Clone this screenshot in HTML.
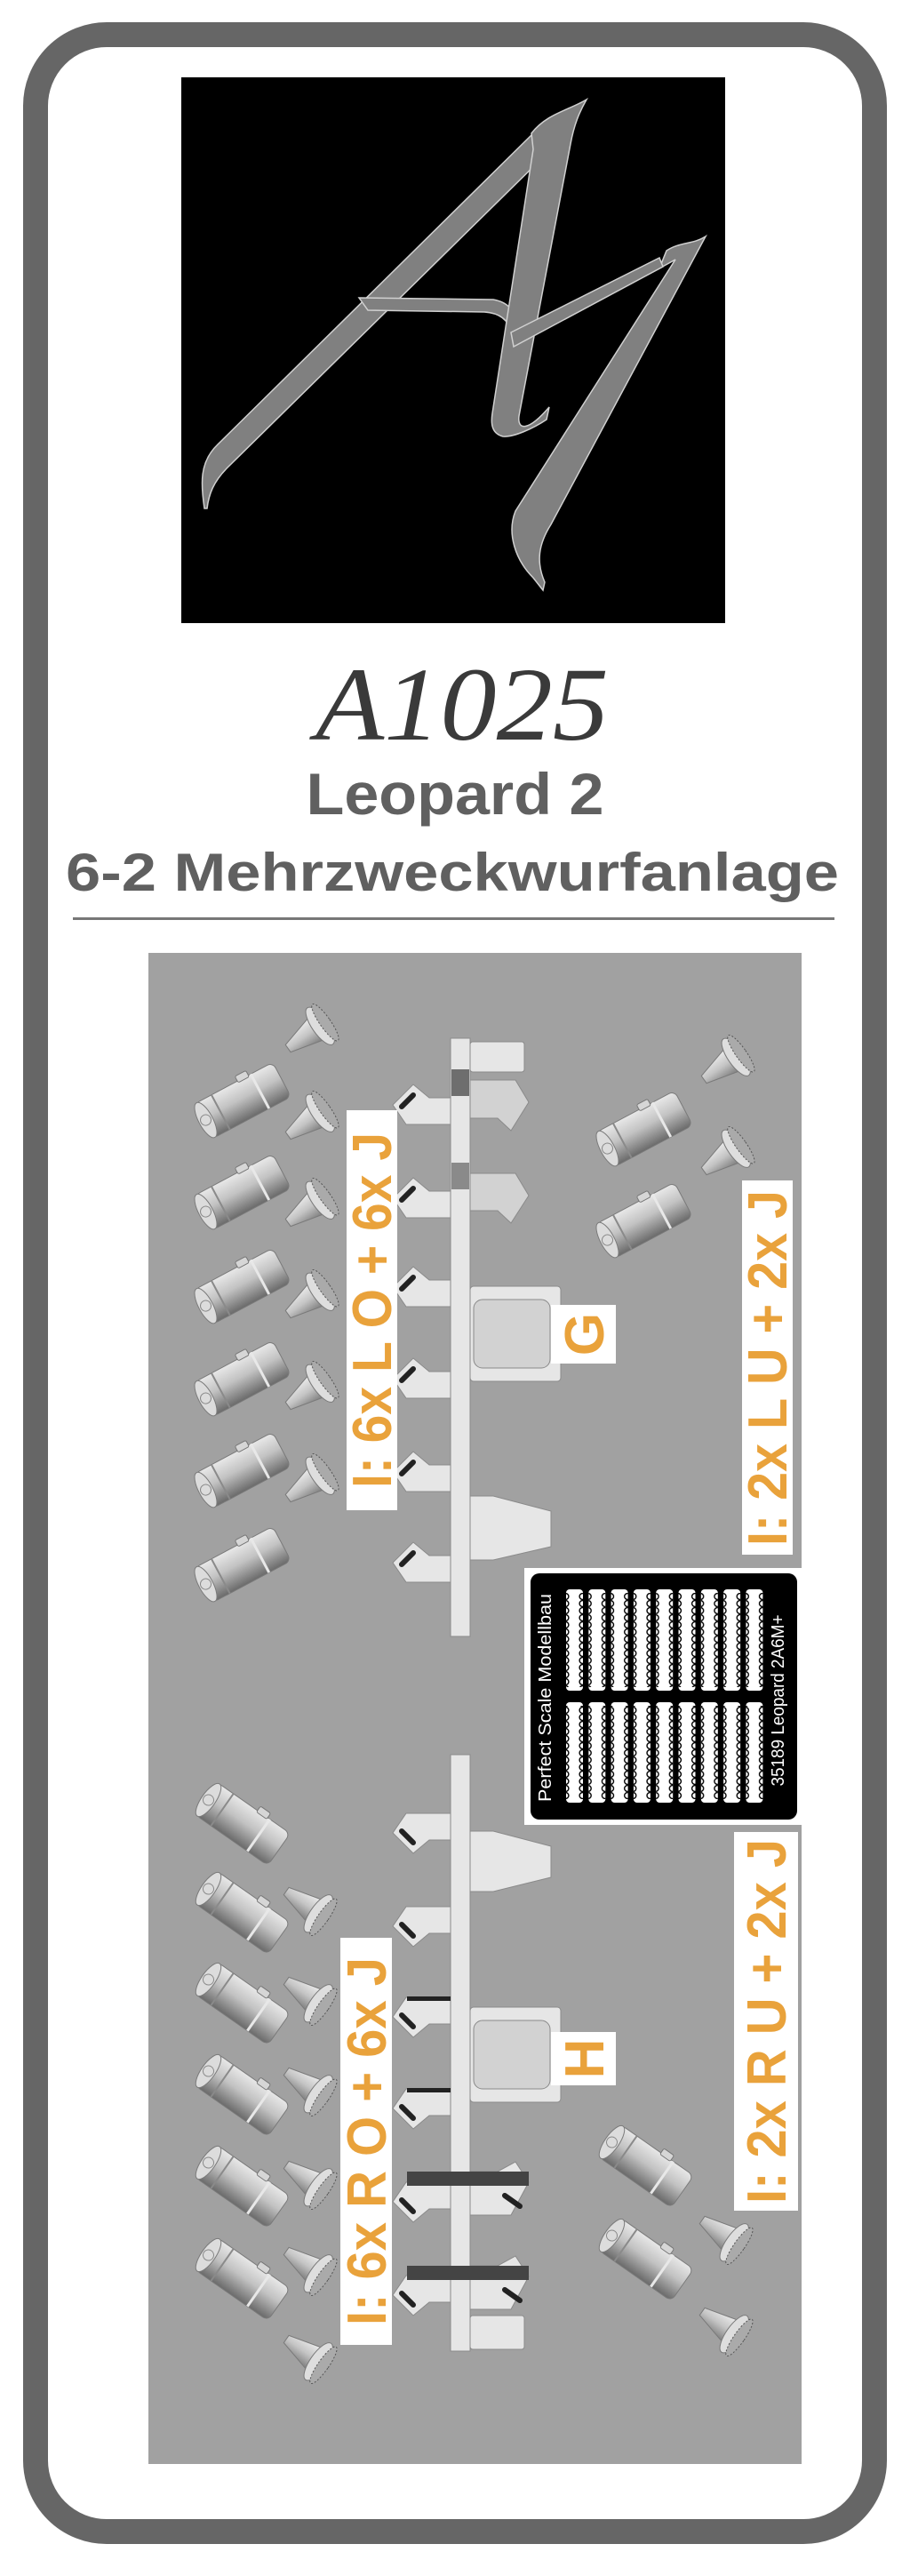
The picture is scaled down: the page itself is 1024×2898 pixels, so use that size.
<!DOCTYPE html>
<html><head><meta charset="utf-8"><style>
html,body{margin:0;padding:0;background:#fff;}
svg{display:block;}
</style></head><body>
<svg width="1024" height="2898" viewBox="0 0 1024 2898" xmlns="http://www.w3.org/2000/svg">
<defs>
<linearGradient id="cg" x1="0" y1="0" x2="0" y2="1">
<stop offset="0" stop-color="#e8e8e8"/><stop offset="0.45" stop-color="#c2c2c2"/><stop offset="1" stop-color="#6a6a6a"/>
</linearGradient>
<linearGradient id="kg" x1="0" y1="0" x2="0" y2="1">
<stop offset="0" stop-color="#ececec"/><stop offset="0.5" stop-color="#c4c4c4"/><stop offset="1" stop-color="#7e7e7e"/>
</linearGradient>
<g id="cyl">
<rect x="-50" y="-22" width="100" height="44" rx="7" fill="url(#cg)" stroke="#7a7a7a" stroke-width="1"/>
<ellipse cx="-47" cy="0" rx="8" ry="22" fill="#dcdcdc" stroke="#7a7a7a"/>
<circle cx="-47" cy="0" r="6" fill="none" stroke="#888"/>
<line x1="-28" y1="-22" x2="-28" y2="22" stroke="#8a8a8a" stroke-width="2"/>
<line x1="22" y1="-22" x2="22" y2="22" stroke="#e8e8e8" stroke-width="3"/>
<rect x="5" y="-28" width="14" height="8" rx="2" fill="#d6d6d6" stroke="#777"/>
</g>
<g id="cone">
<polygon points="-34,-5 -34,5 4,15 4,-15" fill="url(#kg)" stroke="#7a7a7a" stroke-width="1"/>
<ellipse cx="10" cy="0" rx="9" ry="25" fill="#dedede" stroke="#7a7a7a"/>
<ellipse cx="17" cy="0" rx="6" ry="25" fill="#aaa" stroke="#555" stroke-dasharray="2 2"/>
</g>
<pattern id="chain" x="0" y="0" width="19" height="8" patternUnits="userSpaceOnUse">
<circle cx="9.5" cy="4" r="3.4" fill="none" stroke="#000" stroke-width="1.4"/>
</pattern>
</defs>

<rect x="40" y="39" width="944" height="2809" rx="80" fill="#fff" stroke="#666" stroke-width="28"/>

<rect x="204" y="87" width="612" height="614" fill="#000"/>
<g fill="#808080" stroke="#d0d0d0" stroke-width="1.5">
<path d="M230,572 C226,545 224,520 245,500 L600,150 L620,168 L256,526 C240,542 235,556 233,572 Z"/>
<path d="M404,335 L555,337 C572,340 580,350 580,364 L575,374 C572,358 560,352 545,351 L414,349 Z"/>
<path d="M598,150 C615,128 640,124 660,112 C652,126 646,140 642,162 L584,468 C582,484 594,486 618,458 L615,472 C600,482 578,492 566,491 C554,488 552,478 554,465 L600,168 Z"/>
<path d="M794,266 C780,275 765,272 750,282 L742,302 L760,292 L580,575 C570,600 580,630 600,650 L611,664 L613,655 C603,632 606,612 620,590 Z"/>
<path d="M575,374 L742,290 L746,300 L578,390 Z"/>
</g>

<text x="520" y="832" text-anchor="middle" font-family="Liberation Serif, serif" font-style="italic" font-size="118" fill="#3a3a3a" textLength="330" lengthAdjust="spacingAndGlyphs">A1025</text>
<text x="512" y="916" text-anchor="middle" font-family="Liberation Sans, sans-serif" font-weight="bold" font-size="66" fill="#606060" textLength="335" lengthAdjust="spacingAndGlyphs">Leopard 2</text>
<text x="509" y="1002" text-anchor="middle" font-family="Liberation Sans, sans-serif" font-weight="bold" font-size="60" fill="#606060" textLength="870" lengthAdjust="spacingAndGlyphs">6-2 Mehrzweckwurfanlage</text>
<rect x="82" y="1032" width="857" height="3" fill="#777"/>

<rect x="167" y="1072" width="735" height="1700" fill="#a1a1a1"/>

<g fill="#e6e6e6" stroke="#8a8a8a" stroke-width="1">
<rect x="529" y="1172" width="61" height="34" rx="3"/>
<path d="M507,1265 L457,1265 L442,1243 L465,1220 L483,1235 L507,1235 Z"/>
<path d="M507,1370 L457,1370 L442,1348 L465,1325 L483,1340 L507,1340 Z"/>
<path d="M507,1470 L457,1470 L442,1448 L465,1425 L483,1440 L507,1440 Z"/>
<path d="M507,1573 L457,1573 L442,1551 L465,1528 L483,1543 L507,1543 Z"/>
<path d="M507,1678 L457,1678 L442,1656 L465,1633 L483,1648 L507,1648 Z"/>
<path d="M507,1780 L457,1780 L442,1758 L465,1735 L483,1750 L507,1750 Z"/>
<path d="M529,1215 L580,1215 L595,1240 L575,1272 L560,1258 L529,1258 Z" fill="#d2d2d2"/>
<path d="M529,1320 L580,1320 L595,1345 L575,1376 L560,1362 L529,1362 Z" fill="#d2d2d2"/>
<rect x="529" y="1447" width="102" height="107" rx="4"/>
<rect x="533" y="1462" width="86" height="77" rx="10" fill="#d2d2d2"/>
<path d="M529,1683 L555,1683 L620,1700 L620,1740 L555,1755 L529,1755 Z"/>
<rect x="507" y="1168" width="22" height="673"/>
</g>
<rect x="508" y="1203" width="20" height="30" fill="#6e6e6e"/>
<rect x="508" y="1308" width="20" height="30" fill="#8a8a8a"/>
<g stroke="#222" stroke-width="6" stroke-linecap="round">
<line x1="452" y1="1245" x2="465" y2="1232"/><line x1="452" y1="1350" x2="465" y2="1337"/>
<line x1="452" y1="1450" x2="465" y2="1437"/><line x1="452" y1="1553" x2="465" y2="1540"/>
<line x1="452" y1="1658" x2="465" y2="1645"/><line x1="452" y1="1760" x2="465" y2="1747"/>
</g>

<g fill="#e6e6e6" stroke="#8a8a8a" stroke-width="1">
<path d="M529,2060 L555,2060 L620,2077 L620,2112 L555,2128 L529,2128 Z"/>
<path d="M507,2040 L457,2040 L442,2062 L465,2085 L483,2070 L507,2070 Z"/>
<path d="M507,2145 L457,2145 L442,2167 L465,2190 L483,2175 L507,2175 Z"/>
<path d="M507,2247 L457,2247 L442,2269 L465,2292 L483,2277 L507,2277 Z"/>
<path d="M507,2350 L457,2350 L442,2372 L465,2395 L483,2380 L507,2380 Z"/>
<path d="M507,2455 L457,2455 L442,2477 L465,2500 L483,2485 L507,2485 Z"/>
<path d="M507,2560 L457,2560 L442,2582 L465,2605 L483,2590 L507,2590 Z"/>
<path d="M529,2443 L560,2443 L580,2432 L595,2455 L575,2492 L529,2492 Z"/>
<path d="M529,2549 L560,2549 L580,2538 L595,2561 L575,2598 L529,2598 Z"/>
<rect x="529" y="2258" width="102" height="107" rx="4"/>
<rect x="533" y="2273" width="86" height="77" rx="10" fill="#d2d2d2"/>
<rect x="529" y="2605" width="61" height="38" rx="3"/>
<rect x="507" y="1974" width="22" height="671"/>
</g>
<rect x="458" y="2246" width="49" height="5" fill="#222"/>
<rect x="458" y="2349" width="49" height="5" fill="#222"/>
<rect x="458" y="2443" width="137" height="16" fill="#444"/>
<rect x="458" y="2549" width="137" height="16" fill="#444"/>
<g stroke="#222" stroke-width="6" stroke-linecap="round">
<line x1="452" y1="2060" x2="465" y2="2073"/><line x1="452" y1="2165" x2="465" y2="2178"/>
<line x1="452" y1="2267" x2="465" y2="2280"/><line x1="452" y1="2370" x2="465" y2="2383"/>
<line x1="452" y1="2475" x2="465" y2="2488"/><line x1="452" y1="2580" x2="465" y2="2593"/>
<line x1="568" y1="2470" x2="585" y2="2482"/><line x1="568" y1="2576" x2="585" y2="2588"/>
</g>

<use href="#cyl" transform="translate(273,1238) rotate(-28)"/>
<use href="#cyl" transform="translate(273,1341) rotate(-28)"/>
<use href="#cyl" transform="translate(273,1447) rotate(-28)"/>
<use href="#cyl" transform="translate(273,1551) rotate(-28)"/>
<use href="#cyl" transform="translate(273,1654) rotate(-28)"/>
<use href="#cyl" transform="translate(273,1760) rotate(-28)"/>
<use href="#cone" transform="translate(352,1160) rotate(-35)"/>
<use href="#cone" transform="translate(352,1258) rotate(-35)"/>
<use href="#cone" transform="translate(352,1356) rotate(-35)"/>
<use href="#cone" transform="translate(352,1459) rotate(-35)"/>
<use href="#cone" transform="translate(352,1562) rotate(-35)"/>
<use href="#cone" transform="translate(352,1666) rotate(-35)"/>
<use href="#cyl" transform="translate(725,1270) rotate(-28)"/>
<use href="#cyl" transform="translate(725,1373) rotate(-28)"/>
<use href="#cone" transform="translate(820,1195) rotate(-35)"/>
<use href="#cone" transform="translate(820,1298) rotate(-35)"/>

<use href="#cyl" transform="translate(273,2052) rotate(35)"/>
<use href="#cyl" transform="translate(273,2152) rotate(35)"/>
<use href="#cyl" transform="translate(273,2254) rotate(35)"/>
<use href="#cyl" transform="translate(273,2357) rotate(35)"/>
<use href="#cyl" transform="translate(273,2460) rotate(35)"/>
<use href="#cyl" transform="translate(273,2564) rotate(35)"/>
<use href="#cone" transform="translate(350,2147) rotate(35)"/>
<use href="#cone" transform="translate(350,2248) rotate(35)"/>
<use href="#cone" transform="translate(350,2350) rotate(35)"/>
<use href="#cone" transform="translate(350,2455) rotate(35)"/>
<use href="#cone" transform="translate(350,2552) rotate(35)"/>
<use href="#cone" transform="translate(350,2651) rotate(35)"/>
<use href="#cyl" transform="translate(727,2437) rotate(35)"/>
<use href="#cyl" transform="translate(727,2542) rotate(35)"/>
<use href="#cone" transform="translate(818,2517) rotate(35)"/>
<use href="#cone" transform="translate(818,2620) rotate(35)"/>

<g font-family="Liberation Sans, sans-serif" font-weight="bold" fill="#e9a23b" text-anchor="middle" font-size="62">
<rect x="390" y="1249" width="57" height="450" fill="#fff"/>
<text transform="translate(440,1474) rotate(-90)" textLength="400" lengthAdjust="spacingAndGlyphs">I: 6x L O + 6x J</text>
<rect x="835" y="1328" width="57" height="421" fill="#fff"/>
<text transform="translate(885,1539) rotate(-90)" textLength="400" lengthAdjust="spacingAndGlyphs">I: 2x L U + 2x J</text>
<rect x="383" y="2180" width="58" height="458" fill="#fff"/>
<text transform="translate(434,2409) rotate(-90)" textLength="414" lengthAdjust="spacingAndGlyphs">I: 6x R O + 6x J</text>
<rect x="826" y="2061" width="72" height="426" fill="#fff"/>
<text transform="translate(884,2274) rotate(-90)" textLength="410" lengthAdjust="spacingAndGlyphs">I: 2x R U + 2x J</text>
<rect x="620" y="1468" width="73" height="66" fill="#fff"/>
<text transform="translate(679,1501) rotate(-90)">G</text>
<rect x="620" y="2286" width="73" height="60" fill="#fff"/>
<text transform="translate(679,2316) rotate(-90)">H</text>
</g>

<rect x="590" y="1764" width="312" height="289" fill="#fff"/>
<rect x="597" y="1770" width="300" height="277" rx="10" fill="#000"/>
<g>
<g id="pills">
<rect x="637" y="1788" width="19" height="114" rx="4" fill="#fff"/>
<rect x="637" y="1792" width="19" height="106" fill="url(#chain)"/>
<rect x="637" y="1915" width="19" height="113" rx="4" fill="#fff"/>
<rect x="637" y="1919" width="19" height="105" fill="url(#chain)"/>
</g>
<use href="#pills" x="25.3"/><use href="#pills" x="50.6"/><use href="#pills" x="75.9"/>
<use href="#pills" x="101.2"/><use href="#pills" x="126.5"/><use href="#pills" x="151.8"/>
<use href="#pills" x="177.1"/><use href="#pills" x="202.4"/>
</g>
<g font-family="Liberation Sans, sans-serif" fill="#fff" font-size="20" text-anchor="middle">
<text transform="translate(620,1910) rotate(-90)" textLength="234" lengthAdjust="spacingAndGlyphs">Perfect Scale Modellbau</text>
<text transform="translate(882,1913) rotate(-90)" textLength="193" lengthAdjust="spacingAndGlyphs">35189 Leopard 2A6M+</text>
</g>
</svg>
</body></html>
